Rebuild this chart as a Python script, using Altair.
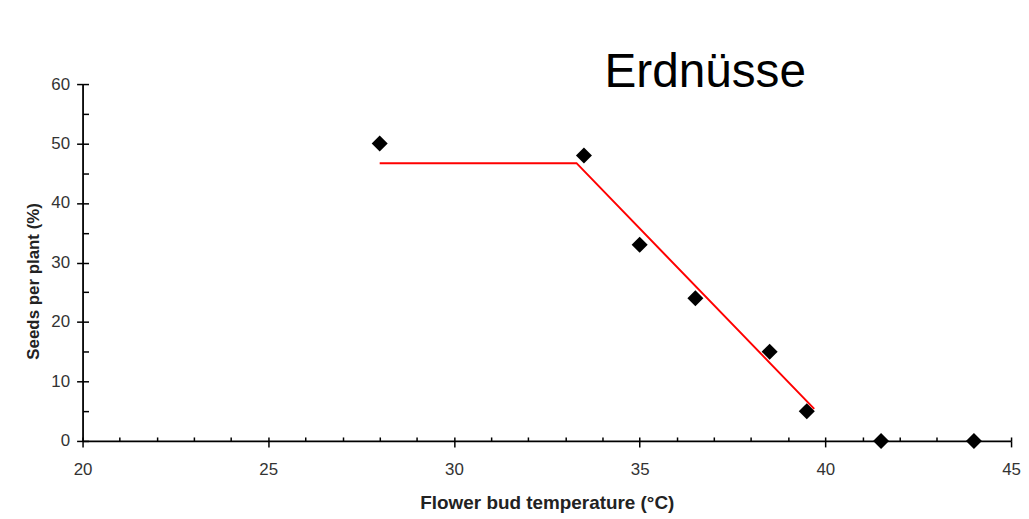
import altair as alt
import pandas as pd

# Observed data (flower bud temperature vs seeds per plant)
temps = [28.0, 33.5, 35.0, 36.5, 38.5, 39.5, 41.5, 44.0]
seeds = [50, 48, 33, 24, 15, 5, 0, 0]

# Fitted broken-stick line
fit_temp = [28.0, 33.3, 39.7]
fit_seeds = [46.7, 46.7, 5.4]

x_major = [20, 25, 30, 35, 40, 45]
x_minor = list(range(20, 46))
y_major = [0, 10, 20, 30, 40, 50, 60]
y_minor = list(range(0, 61, 5))

pts = pd.DataFrame({"temp": temps, "seeds": seeds})
fit = pd.DataFrame({"temp": fit_temp, "seeds": fit_seeds})

FONT = "Liberation Sans"
xscale = alt.Scale(domain=[20, 45], nice=False, zero=False)
yscale = alt.Scale(domain=[0, 60], nice=False, zero=False)

x_main = alt.Axis(orient="bottom", values=x_major, tickSize=6, tickWidth=1.5,
                  domain=True, domainWidth=1.8, domainColor="black", tickColor="black",
                  labelFont=FONT, labelFontSize=17, labelColor="#333333",
                  labelPadding=15, labelFlush=False, labelOverlap=False,
                  title="Flower bud temperature (°C)", titleFont=FONT,
                  titleFontSize=19, titleFontWeight="bold", titleColor="#222222",
                  titlePadding=16, grid=False, format="d")
y_main = alt.Axis(orient="left", values=y_major, tickSize=6, tickWidth=1.5,
                  domain=True, domainWidth=1.8, domainColor="black", tickColor="black",
                  labelFont=FONT, labelFontSize=17, labelColor="#333333",
                  labelPadding=7, labelOverlap=False, labelFlush=False,
                  title="Seeds per plant (%)", titleFont=FONT,
                  titleFontSize=17, titleFontWeight="bold", titleColor="#222222",
                  titlePadding=8, titleY=198, grid=False, format="d")

x_min = alt.Axis(orient="bottom", values=x_minor, tickSize=4, tickWidth=1.5,
                 offset=-4, domain=False, labels=False, title=None, grid=False,
                 tickColor="black")
y_min = alt.Axis(orient="left", values=y_minor, tickSize=6, tickWidth=1.5,
                 offset=-6, domain=False, labels=False, title=None, grid=False,
                 tickColor="black")

points = alt.Chart(pts).mark_point(shape="diamond", filled=True, color="black",
                                   size=260, opacity=1).encode(
    x=alt.X("temp:Q", scale=xscale, axis=x_main),
    y=alt.Y("seeds:Q", scale=yscale, axis=y_main),
)

line = alt.Chart(fit).mark_line(color="#ff0000", strokeWidth=2).encode(
    x=alt.X("temp:Q", scale=xscale, axis=x_min),
    y=alt.Y("seeds:Q", scale=yscale, axis=y_min),
)

chart = alt.layer(points, line).resolve_axis(
    x="independent", y="independent"
).properties(
    width=934,
    height=359,
    autosize=alt.AutoSizeParams(type="none"),
    padding={"left": 75, "top": 75, "right": 10, "bottom": 77},
    background="white",
    title=alt.TitleParams("Erdnüsse", font=FONT, fontSize=48, fontWeight="normal",
                          color="black", anchor="start", frame="group",
                          dx=525, dy=64, baseline="alphabetic"),
).configure_view(stroke=None)

chart.save("out.html", embed_options={"renderer": "svg", "actions": False})
